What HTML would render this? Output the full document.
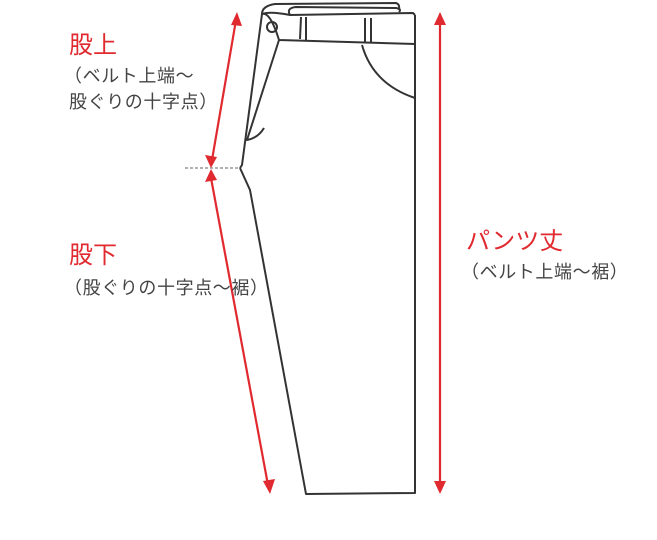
<!DOCTYPE html>
<html><head><meta charset="utf-8"><style>
html,body{margin:0;padding:0;background:#fff;width:657px;height:540px;overflow:hidden}
.t{position:absolute;font-family:"Liberation Sans","Noto Sans CJK JP",sans-serif;white-space:nowrap}
.r{color:#e02a2f;font-size:24px;line-height:24px}
.g{color:#444;font-size:18px;line-height:24px;letter-spacing:0.6px}
</style></head><body>
<svg width="657" height="540" style="position:absolute;left:0;top:0">
<g fill="none" stroke="#333" stroke-width="2" stroke-linejoin="round">
<path d="M262,14 Q262,6 275,4 L396,3 Q400,4 399,10"/>
<path d="M290,15 Q286,8 296,7 L396,8 Q402,9 399,12"/>
<path d="M262,14 Q270,11 290,15 L413,13 L415,15"/>
<path d="M262,14 Q270,11 279,40 L415,44"/>
<path d="M262,14 L242,165 L240,168"/>
<path d="M279,40 L247,140 Q258,138 264,128"/>
<path d="M415,15 L415,493 L306,494 L250,190 L240,168"/>
<path d="M301,17 L300,39 M306,17 L306,40 M365,18 L365,42 M371,18 L371,43"/>
<path d="M362,45 Q373,84 415,98"/>
<circle cx="272" cy="27" r="5"/>
</g>
<line x1="185" y1="168" x2="240" y2="168" stroke="#999" stroke-width="1.5" stroke-dasharray="3,2"/>
<g stroke="#e02a2f" stroke-width="2.2" fill="#e02a2f">
<line x1="236" y1="20" x2="212" y2="160"/>
<polygon points="237,12 231,25 242,26" stroke="none"/>
<polygon points="211,168 205,155 217,157" stroke="none"/>
<line x1="211" y1="178" x2="268" y2="485"/>
<polygon points="211,169 205,182 217,180" stroke="none"/>
<polygon points="270,494 263,481 275,479" stroke="none"/>
<line x1="440" y1="20" x2="440" y2="485"/>
<polygon points="440,12 434,25 446,25" stroke="none"/>
<polygon points="440,494 434,481 446,481" stroke="none"/>
</g>
</svg>
<div class="t r" style="left:69px;top:34px">股上</div>
<div class="t g" style="left:64px;top:64px">（ベルト上端～</div>
<div class="t g" style="left:69px;top:90px">股ぐりの十字点）</div>
<div class="t r" style="left:69px;top:244px">股下</div>
<div class="t g" style="left:64px;top:276px">（股ぐりの十字点～裾）</div>
<div class="t r" style="left:466px;top:230px">パンツ丈</div>
<div class="t g" style="left:461px;top:260px">（ベルト上端～裾）</div>
</body></html>
